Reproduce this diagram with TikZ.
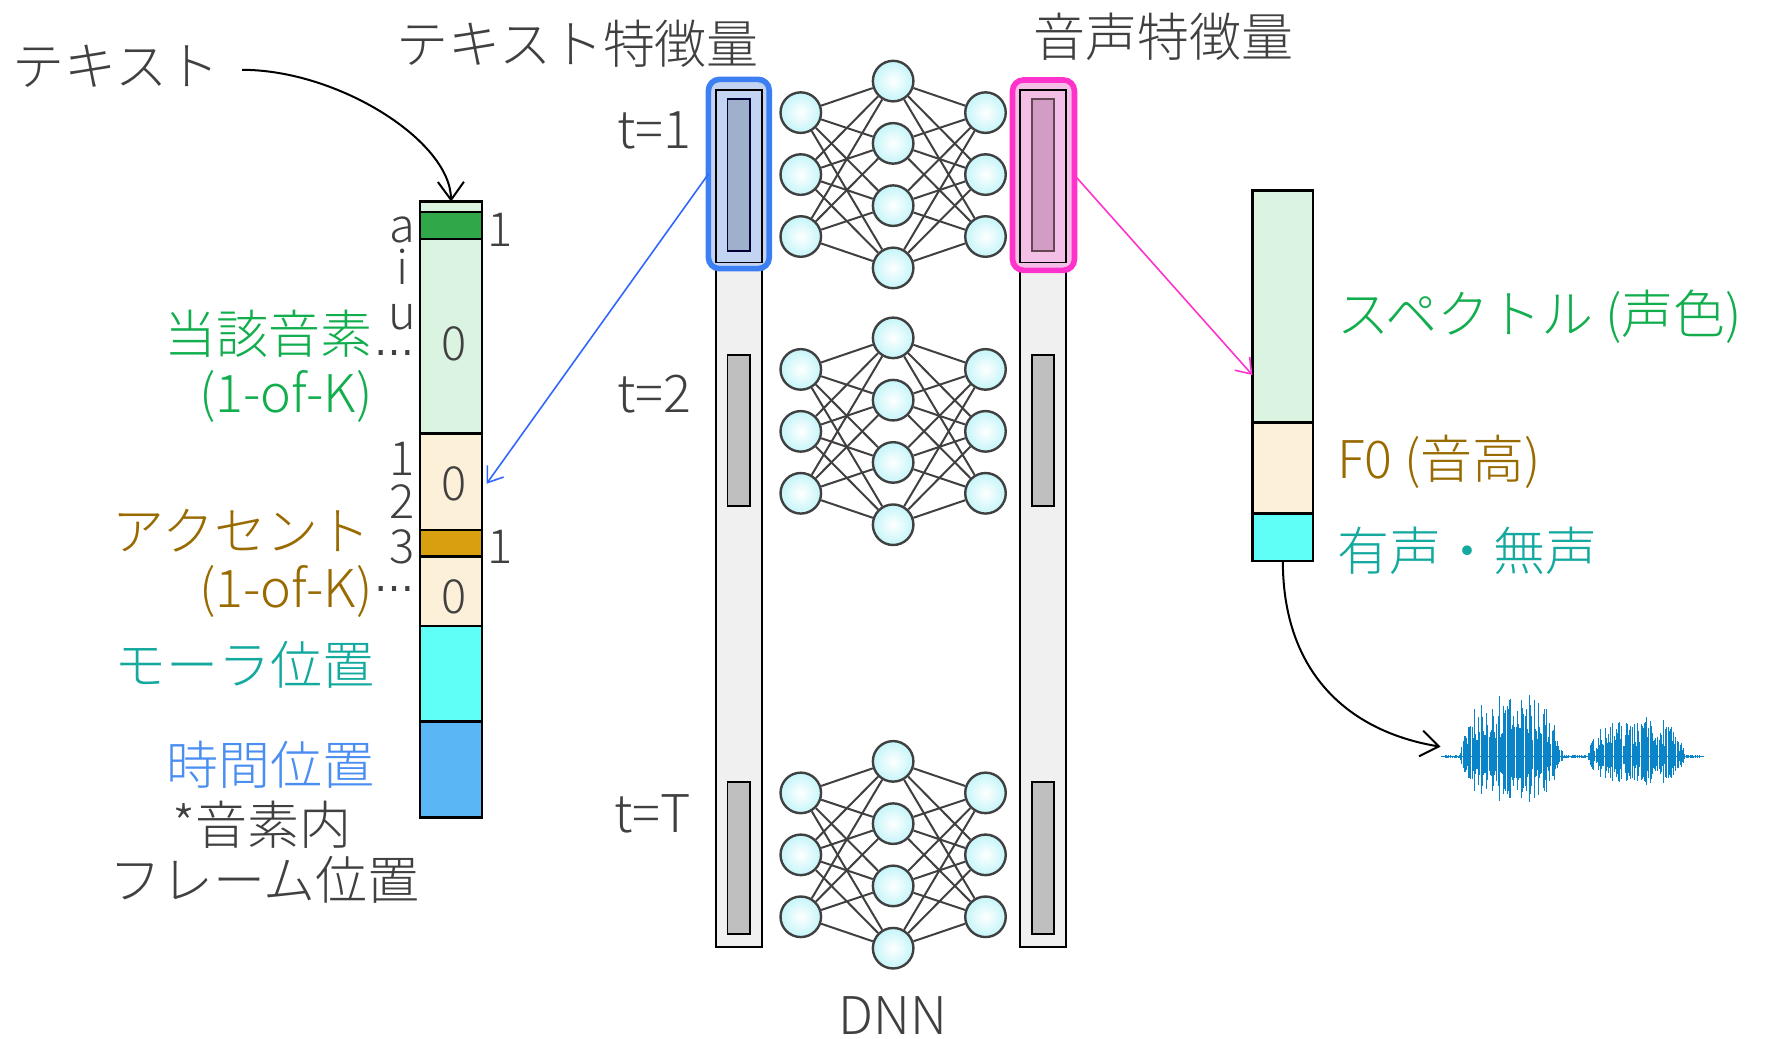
\documentclass[tikz,border=0pt]{standalone}
\usepackage{fontspec}
\setmainfont{Noto Sans CJK JP}[UprightFont={* Light}]
\newfontfamily\dejavu{DejaVu Sans}
\usetikzlibrary{arrows.meta}
\definecolor{tgray}{HTML}{404040}
\definecolor{tgreen}{HTML}{12AE4E}
\definecolor{tbrown}{HTML}{986A00}
\definecolor{tteal}{HTML}{14A99F}
\definecolor{tblue}{HTML}{4A8EF2}
\definecolor{lgreen}{HTML}{DBF3E1}
\definecolor{dgreen}{HTML}{30A84A}
\definecolor{lorange}{HTML}{FDF0D8}
\definecolor{dorange}{HTML}{D8A010}
\definecolor{fcyan}{HTML}{5FFFF7}
\definecolor{fblue}{HTML}{5BB6F6}
\definecolor{colgray}{HTML}{F0F0F0}
\definecolor{bargray}{HTML}{BFBFBF}
\definecolor{hlblue}{HTML}{3B7FF2}
\definecolor{hlbluefill}{HTML}{C2D4F2}
\definecolor{barblue}{HTML}{9FB0CC}
\definecolor{hlpink}{HTML}{FF33CC}
\definecolor{hlpinkfill}{HTML}{F4BFE6}
\definecolor{barpink}{HTML}{D29CC4}
\definecolor{arrblue}{HTML}{3366FF}
\definecolor{wavecol}{HTML}{0A84C8}
\definecolor{ncyan}{HTML}{C4F5F9}
\def\upx{0.5632pt}
\begin{document}
\begin{tikzpicture}[x=0.5632pt,y=-0.5632pt,
  lab/.style={font=\fontsize{26}{30}\selectfont, inner sep=0pt, text=tgray},
  small/.style={lab, font=\fontsize{23.5}{27}\selectfont, anchor=base},
  seg/.style={draw=black, line width=1.2pt, minimum width=55*\upx, inner sep=0pt, outer sep=0pt},
  rseg/.style={draw=black, line width=1.2pt, minimum width=54*\upx, inner sep=0pt, outer sep=0pt},
  column/.style={draw=black, line width=0.9pt, fill=colgray, minimum width=41*\upx, minimum height=761*\upx, inner sep=0pt, outer sep=0pt},
  bar/.style={draw=black, line width=0.9pt, fill=bargray, minimum width=20*\upx, inner sep=0pt, outer sep=0pt},
  hl/.style={line width=2.8pt, rounded corners=5.5pt, minimum width=54*\upx, minimum height=168*\upx, inner sep=0pt, outer sep=0pt},
  neuron/.style={circle, draw=tgray, line width=1.2pt, minimum size=36*\upx, inner sep=0pt, shading=radial, inner color=white, outer color=ncyan},
  edge/.style={draw=tgray, line width=1pt},
  blackarr/.style={draw=black, line width=1pt, -{Straight Barb[length=9pt,width=13pt,line width=1pt]}},
  thinarr/.style={line width=0.8pt, -{Straight Barb[length=7pt,width=10pt,line width=0.8pt]}}
]
\useasboundingbox (0,0) rectangle (1568,922.5);

% ---------- titles ----------
\node[lab, anchor=west] (txt) at (11,59) {テキスト};
\node[lab] (ttitle) at (513,38.5) {テキスト特徴量};
\node[lab] (stitle) at (1033,33) {音声特徴量};
\node[lab] (dnn) at (793,902) {DNN};

% ---------- left vector ----------
\node[seg, fill=lgreen, minimum height=9*\upx] (lv0) at (400.5,183.5) {};
\node[seg, fill=dgreen, minimum height=24*\upx] (lv1) at (400.5,200) {};
\node[seg, fill=lgreen, minimum height=173*\upx] (lv2) at (400.5,298.5) {};
\node[seg, fill=lorange, minimum height=85.5*\upx] (lv3) at (400.5,427.75) {};
\node[seg, fill=dorange, minimum height=23.5*\upx] (lv4) at (400.5,482.25) {};
\node[seg, fill=lorange, minimum height=62*\upx] (lv5) at (400.5,525) {};
\node[seg, fill=fcyan, minimum height=84.5*\upx] (lv6) at (400.5,598.25) {};
\node[seg, fill=fblue, minimum height=85.5*\upx] (lv7) at (400.5,683.25) {};

% values inside / beside
\node[small] (v0a) at (403,320) {0};
\node[small] (v0b) at (403,444) {0};
\node[small] (v0c) at (403,545) {0};
\node[small] (v1a) at (444,219) {1};
\node[small] (v1b) at (444,500) {1};
\node[small] (pa) at (357,215) {a};
\node[small] (pi) at (357,253) {i};
\node[small] (pu) at (357,293) {u};
\node[small] (ac1) at (357,422) {1};
\node[small] (ac2) at (357,460) {2};
\node[small] (ac3) at (357,500) {3};
\node[lab, font=\dejavu\fontsize{20}{24}\selectfont] (dots1) at (350,313) {…};
\node[lab, font=\dejavu\fontsize{20}{24}\selectfont] (dots2) at (350,523) {…};

% left labels
\node[lab, anchor=east, text=tgreen] (l1) at (331,296) {当該音素};
\node[lab, anchor=east, text=tgreen] (l2) at (331,352) {(1-of-K)};
\node[lab, anchor=east, text=tbrown] (l3) at (329,471) {アクセント};
\node[lab, anchor=east, text=tbrown] (l4) at (331,525) {(1-of-K)};
\node[lab, anchor=east, text=tteal] (l5) at (333,590) {モーラ位置};
\node[lab, anchor=east, text=tblue] (l6) at (333,679) {時間位置};
\node[lab] (l7) at (233,732) {*音素内};
\node[lab] (l8) at (235,781) {フレーム位置};

% ---------- text feature column ----------
\node[column] (tcol) at (656,460.5) {};
\node[hl, draw=hlblue, fill=hlbluefill] (hlT) at (656,154.5) {};
\node[draw=black, line width=0.9pt, minimum width=41*\upx, minimum height=153*\upx, inner sep=0pt] (tframe) at (656,156.5) {};
\node[bar, fill=barblue, draw=black!80!blue, minimum height=135*\upx] (tb1) at (656,155.5) {};
\node[bar, minimum height=134*\upx] (tb2) at (656,382) {};
\node[bar, minimum height=135*\upx] (tb3) at (656,762) {};

\node[lab, anchor=east] (t1) at (614,116) {t=1};
\node[lab, anchor=east] (t2) at (614,350) {t=2};
\node[lab, anchor=east] (tT) at (614,723) {t=T};

% ---------- speech feature column ----------
\node[column] (scol) at (926,460.5) {};
\node[hl, draw=hlpink, fill=hlpinkfill, minimum width=55*\upx, minimum height=169*\upx] (hlS) at (926.5,155.5) {};
\node[draw=black, line width=0.9pt, minimum width=41*\upx, minimum height=153*\upx, inner sep=0pt] (sframe) at (926,156.5) {};
\node[bar, fill=barpink, draw=black!70!magenta, minimum height=135*\upx] (sb1) at (926,155.5) {};
\node[bar, minimum height=134*\upx] (sb2) at (926,382) {};
\node[bar, minimum height=135*\upx] (sb3) at (926,762) {};

% ---------- networks ----------
\foreach \k/\b in {1/72,2/300,3/676} {
  \foreach \i in {1,2,3} {
    \node[neuron] (n\k i\i) at (711,{\b+28+55*(\i-1)}) {};
    \node[neuron] (n\k o\i) at (875,{\b+28+55*(\i-1)}) {};
  }
  \foreach \j in {1,2,3,4} {
    \node[neuron] (n\k h\j) at (793,{\b+55.3*(\j-1)}) {};
  }
  \foreach \i in {1,2,3} {
    \foreach \j in {1,2,3,4} {
      \draw[edge] (n\k i\i) -- (n\k h\j);
      \draw[edge] (n\k h\j) -- (n\k o\i);
    }
  }
}

% ---------- right vector ----------
\node[rseg, fill=lgreen, minimum height=206*\upx] (rv1) at (1139,272) {};
\node[rseg, fill=lorange, minimum height=81*\upx] (rv2) at (1139,415.5) {};
\node[rseg, fill=fcyan, minimum height=42*\upx] (rv3) at (1139,477) {};
\node[lab, anchor=west, text=tgreen] (r1) at (1187,281) {スペクトル (声色)};
\node[lab, anchor=west, text=tbrown] (r2) at (1187,410) {F0 (音高)};
\node[lab, anchor=west, text=tteal] (r3) at (1187,489) {有声・無声};

% ---------- waveform ----------
\node[minimum width=233*\upx, minimum height=95*\upx, inner sep=0pt] (wave) at (1396,672) {};
\draw[wavecol, line width=0.5pt] (wave.west) -- (wave.east);
\pgfmathsetseed{11}
\foreach \i in {0,...,226} {
  \pgfmathsetmacro{\xx}{1283+\i}
  \pgfmathsetmacro{\ea}{58*max(0,1-((\xx-1342)/46)^4)+34*max(0,1-((\xx-1453)/44)^4)+2}
  \pgfmathsetmacro{\aa}{\ea*(0.25+0.75*rnd)}
  \draw[wavecol, line width=0.45pt] (\xx,{672-\aa}) -- (\xx,{672+0.72*\aa});
}

% ---------- connectors ----------
\draw[blackarr] ([xshift=20*\upx,yshift=-3*\upx]txt.east) .. controls (300,62) and (400,125) .. (lv0.north);
\coordinate (blueend) at (432,429.5);
\draw[thinarr, draw=arrblue] (hlT.west) -- (blueend);
\coordinate (pinkend) at (1112,333);
\draw[thinarr, draw=hlpink] (hlS.east) -- (pinkend);
\coordinate (wtip) at (1279,663);
\draw[blackarr] (rv3.south) .. controls (1139,600) and (1200,650) .. (wtip);
\end{tikzpicture}
\end{document}
